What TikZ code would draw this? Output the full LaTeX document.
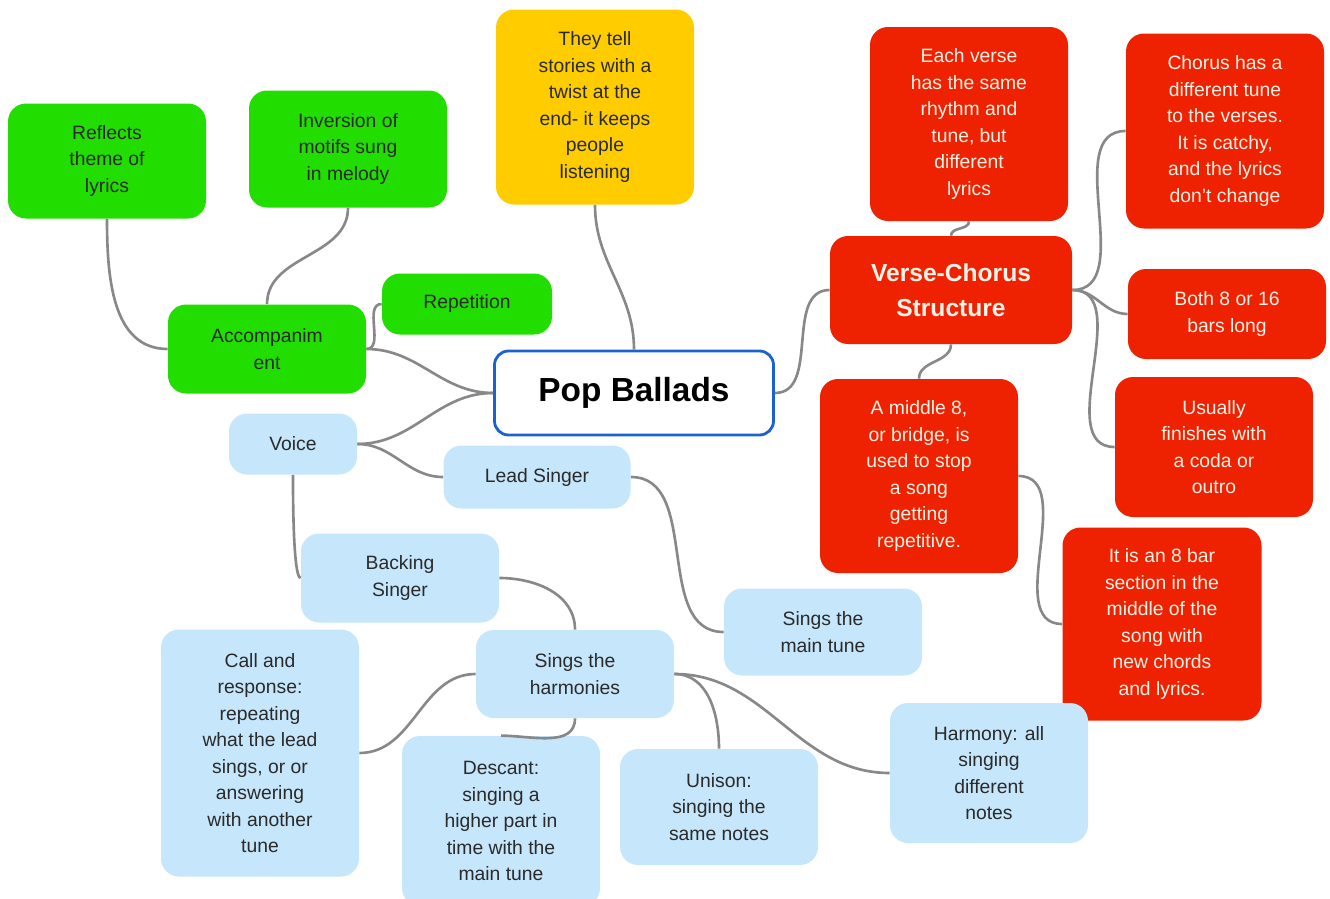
\documentclass[tikz,border=0pt]{standalone}
\usepackage{fontspec}
\setmainfont{Liberation Sans}

\definecolor{leafgreen}{HTML}{22DD00}
\definecolor{storyyellow}{HTML}{FFCC00}
\definecolor{songred}{HTML}{EE2200}
\definecolor{voiceblue}{HTML}{C6E6FB}
\definecolor{popblue}{HTML}{1A62D0}
\definecolor{linkgray}{HTML}{888888}
\definecolor{inkgray}{HTML}{2A2A2A}
\definecolor{creamtext}{HTML}{FFF3E8}

\begin{document}
\begin{tikzpicture}[x=0.02cm, y=-0.02cm,
  boxsize/.style 2 args={minimum width=#1*0.02cm, minimum height=#2*0.02cm},
  box/.style={rounded corners=0.36cm, align=center, inner sep=0pt,
    font=\fontsize{11}{15.1}\selectfont},
  greenbox/.style={box, fill=leafgreen, text=inkgray},
  yellowbox/.style={box, fill=storyyellow, text=inkgray},
  redbox/.style={box, fill=songred, text=creamtext},
  bluebox/.style={box, fill=voiceblue, text=inkgray},
  link/.style={draw=linkgray, line width=1.5pt}]

  \useasboundingbox (0,0) rectangle (1330,899);

  % Centre
  \node[box, boxsize={279}{84}, fill=white, draw=popblue, line width=1.6pt,
    rounded corners=0.28cm, font=\fontsize{19}{22}\selectfont\bfseries] (pop) at (634,393) {Pop Ballads};

  % Accompaniment branch
  \node[greenbox, boxsize={198}{115}] (reflects) at (107,161) {Reflects\\theme of\\lyrics};
  \node[greenbox, boxsize={198}{117}] (inversion) at (348,149) {Inversion of\\motifs sung\\in melody};
  \node[greenbox, boxsize={170}{61}] (repetition) at (467,304) {Repetition};
  \node[greenbox, boxsize={198}{89}] (accomp) at (267,349) {Accompanim\\ent};

  % Stories
  \node[yellowbox, boxsize={198}{195}] (stories) at (595,107) {They tell\\stories with a\\twist at the\\end- it keeps\\people\\listening};

  % Verse-chorus branch
  \node[redbox, boxsize={242}{108}, font=\fontsize{14}{20}\selectfont\bfseries] (structure) at (951,290) {Verse-Chorus\\Structure};
  \node[redbox, boxsize={198}{194}] (verse) at (969,124) {Each verse\\has the same\\rhythm and\\tune, but\\different\\lyrics};
  \node[redbox, boxsize={198}{195}] (chorus) at (1225,131) {Chorus has a\\different tune\\to the verses.\\It is catchy,\\and the lyrics\\don't change};
  \node[redbox, boxsize={198}{90}] (bars) at (1227,314) {Both 8 or 16\\bars long};
  \node[redbox, boxsize={198}{140}] (coda) at (1214,447) {Usually\\finishes with\\a coda or\\outro};
  \node[redbox, boxsize={198}{194}] (middle) at (919,476) {A middle 8,\\or bridge, is\\used to stop\\a song\\getting\\repetitive.};
  \node[redbox, boxsize={199}{193}] (eightbar) at (1162,624) {It is an 8 bar\\section in the\\middle of the\\song with\\new chords\\and lyrics.};

  % Voice branch
  \node[bluebox, boxsize={128}{61}] (voice) at (293,444) {Voice};
  \node[bluebox, boxsize={187}{63}] (lead) at (537,477) {Lead Singer};
  \node[bluebox, boxsize={198}{89}] (backing) at (400,578) {Backing\\Singer};
  \node[bluebox, boxsize={198}{87}] (maintune) at (823,632) {Sings the\\main tune};
  \node[bluebox, boxsize={198}{88}] (harmonies) at (575,674) {Sings the\\harmonies};
  \node[bluebox, boxsize={198}{247}] (callresp) at (260,753) {Call and\\response:\\repeating\\what the lead\\sings, or or\\answering\\with another\\tune};
  \node[bluebox, boxsize={198}{170}] (descant) at (501,821) {Descant:\\singing a\\higher part in\\time with the\\main tune};
  \node[bluebox, boxsize={198}{116}] (unison) at (719,807) {Unison:\\singing the\\same notes};
  \node[bluebox, boxsize={198}{140}] (harmony) at (989,773) {Harmony: all\\singing\\different\\notes};

  % Connectors
  \draw[link] (pop.west) to[out=180,in=0] (accomp.east);
  \draw[link] (pop.west) to[out=180,in=0] (voice.east);
  \draw[link] (pop.north) to[out=90,in=-90] (stories.south);
  \draw[link] (pop.east) to[out=0,in=180] (structure.west);
  \draw[link] (accomp.east) to[out=0,in=180] (repetition.west);
  \draw[link] (accomp.north) to[out=90,in=-90] (inversion.south);
  \draw[link] (accomp.west) to[out=180,in=-90] (reflects.south);
  \draw[link] (structure.north) to[out=90,in=-90] (verse.south);
  \draw[link] (structure.east) to[out=0,in=180] (chorus.west);
  \draw[link] (structure.east) to[out=0,in=180] (bars.west);
  \draw[link] (structure.east) to[out=0,in=180] (coda.west);
  \draw[link] (structure.south) to[out=-90,in=90] (middle.north);
  \draw[link] (middle.east) to[out=0,in=180] (eightbar.west);
  \draw[link] (voice.east) to[out=0,in=180] (lead.west);
  \draw[link] (voice.south) to[out=-90,in=180,looseness=0.2] (backing.west);
  \draw[link] (lead.east) to[out=0,in=180] (maintune.west);
  \draw[link] (backing.east) to[out=0,in=90] (harmonies.north);
  \draw[link] (harmonies.west) to[out=180,in=0] (callresp.east);
  \draw[link] (harmonies.south) to[out=-90,in=0] (descant.north);
  \draw[link] (harmonies.east) to[out=0,in=90] (unison.north);
  \draw[link] (harmonies.east) to[out=0,in=180] (harmony.west);
\end{tikzpicture}
\end{document}
